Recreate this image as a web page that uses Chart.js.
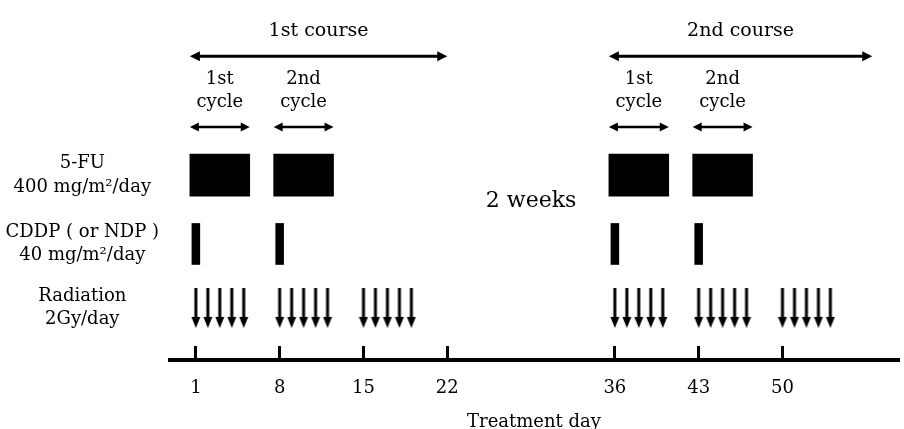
<!DOCTYPE html>
<html lang="en">
<head>
<meta charset="UTF-8">
<title>Treatment schedule</title>
<script src="https://cdn.jsdelivr.net/npm/chart.js"></script>
<style>
  html, body { margin: 0; padding: 0; background: #fff; }
  #wrap { position: relative; width: 904px; height: 429px; }
</style>
</head>
<body>
<div id="wrap"><canvas id="schedule"></canvas></div>
<script>
// schedule data, everything in treatment days
const tickDays = [1, 8, 15, 22, 36, 43, 50];
const courseNames = ['1st course', '2nd course'];
const courseSpans = [[0.5, 22], [35.5, 57.5]];
const cycleNames = [['1st', 'cycle'], ['2nd', 'cycle'], ['1st', 'cycle'], ['2nd', 'cycle']];
const cycleSpans = [[0.5, 5.5], [7.5, 12.5], [35.5, 40.5], [42.5, 47.5]];
const fuDays = [[1, 5], [8, 12], [36, 40], [43, 47]];
const cddpDays = [1, 8, 36, 43];
const radiationDays = [1, 2, 3, 4, 5, 8, 9, 10, 11, 12, 15, 16, 17, 18, 19,
                       36, 37, 38, 39, 40, 43, 44, 45, 46, 47, 50, 51, 52, 53, 54];
const rowLabels = [['5-FU', '400 mg/m²/day'], ['CDDP ( or NDP )', '40 mg/m²/day'], ['Radiation', '2Gy/day']];
const gapLabel = '2 weeks';
const gapDays = [22, 36];
const axisTitle = 'Treatment day';

// layout (vertical levels of each row, in the y scale units)
const ROW = { courseText: 25, course: 51, cycleText: 75, cycleText2: 98, cycle: 123, fu: 172, cddp: 242, rad: 307, gap: 199 };
const FAMILY = '"DejaVu Serif", serif';
const FS = 18;

Chart.defaults.font.family = FAMILY;
Chart.defaults.font.size = FS;
Chart.defaults.color = '#000';

// down arrow used as point style for radiation fractions
const downArrow = (function () {
    const c = document.createElement('canvas');
    c.width = 10; c.height = 40;
    const g = c.getContext('2d');
    g.fillStyle = '#000';
    g.fillRect(3.5, 0, 3, 31);
    g.beginPath();
    g.moveTo(0.5, 29); g.lineTo(9.5, 29); g.lineTo(5, 40);
    g.closePath(); g.fill();
    return c;
})();

const arrowSet = (spans, y, width, head) => spans.map(([a, b]) => ({
    type: 'line',
    data: [{ x: a, y: y }, { x: b, y: y }],
    showLine: false,
    pointRadius: 0,
    arrow: { width: width, len: head[0], half: head[1] }
}));

const schedulePlugin = {
    id: 'schedule',
    afterDatasetsDraw(chart) {
        const ctx = chart.ctx;
        const xs = chart.scales.x, ys = chart.scales.y;
        ctx.save();
        ctx.fillStyle = '#000';
        ctx.strokeStyle = '#000';
        // double headed arrows
        chart.data.datasets.forEach((ds, i) => {
            if (!ds.arrow) return;
            const pts = chart.getDatasetMeta(i).data;
            const x1 = pts[0].x, x2 = pts[1].x, y = pts[0].y;
            const a = ds.arrow;
            ctx.lineWidth = a.width;
            ctx.beginPath();
            ctx.moveTo(x1 + a.len - 1, y); ctx.lineTo(x2 - a.len + 1, y);
            ctx.stroke();
            ctx.beginPath();
            ctx.moveTo(x1, y); ctx.lineTo(x1 + a.len, y - a.half); ctx.lineTo(x1 + a.len, y + a.half);
            ctx.closePath(); ctx.fill();
            ctx.beginPath();
            ctx.moveTo(x2, y); ctx.lineTo(x2 - a.len, y - a.half); ctx.lineTo(x2 - a.len, y + a.half);
            ctx.closePath(); ctx.fill();
        });
        // labels
        ctx.textAlign = 'center';
        ctx.textBaseline = 'middle';
        ctx.font = (FS + 1) + 'px ' + FAMILY;
        courseSpans.forEach(([a, b], i) => {
            ctx.fillText(courseNames[i], xs.getPixelForValue((a + b) / 2), ys.getPixelForValue(ROW.courseText));
        });
        ctx.font = FS + 'px ' + FAMILY;
        cycleSpans.forEach(([a, b], i) => {
            const cx = xs.getPixelForValue((a + b) / 2);
            ctx.fillText(cycleNames[i][0], cx, ys.getPixelForValue(ROW.cycleText));
            ctx.fillText(cycleNames[i][1], cx, ys.getPixelForValue(ROW.cycleText2));
        });
        ctx.font = '22px ' + FAMILY;
        ctx.fillText(gapLabel, xs.getPixelForValue((gapDays[0] + gapDays[1]) / 2), ys.getPixelForValue(ROW.gap));
        ctx.restore();
    }
};

new Chart(document.getElementById('schedule'), {
    type: 'scatter',
    data: {
        datasets: [
            {
                type: 'bar',
                indexAxis: 'y',
                label: '5-FU',
                data: fuDays.map(([a, b]) => ({ x: [a - 0.5, b + 0.5], y: ROW.fu })),
                backgroundColor: '#000',
                barThickness: 42,
                grouped: false
            },
            {
                type: 'bar',
                indexAxis: 'y',
                label: 'CDDP',
                data: cddpDays.map(d => ({ x: [d - 0.33, d + 0.33], y: ROW.cddp })),
                backgroundColor: '#000',
                barThickness: 41,
                grouped: false
            },
            {
                label: 'Radiation',
                data: radiationDays.map(d => ({ x: d, y: ROW.rad })),
                pointStyle: downArrow,
                pointRadius: 5
            },
            ...arrowSet(courseSpans, ROW.course, 3, [10, 5]),
            ...arrowSet(cycleSpans, ROW.cycle, 2.5, [9, 4.5])
        ]
    },
    options: {
        responsive: true,
        maintainAspectRatio: false,
        animation: false,
        layout: { padding: 0 },
        plugins: { legend: { display: false }, tooltip: { enabled: false } },
        scales: {
            x: {
                type: 'linear',
                min: -1.16,
                max: 59.65,
                offset: false,
                afterBuildTicks: s => { s.ticks = tickDays.map(v => ({ value: v })); },
                afterFit: s => { s.height = 69; s.paddingLeft = 0; s.paddingRight = 0; },
                ticks: { autoSkip: false, maxRotation: 0, padding: 32 },
                grid: { display: true, offset: false, drawOnChartArea: false, drawTicks: true, tickLength: -14, lineWidth: 3, color: '#000' },
                border: { display: true, width: 4, color: '#000' },
                title: { display: true, text: axisTitle, padding: { top: 0, bottom: -4 } }
            },
            y: {
                type: 'linear',
                min: 0,
                max: 360,
                reverse: true,
                offset: false,
                afterBuildTicks: s => { s.ticks = [ROW.fu, ROW.cddp, ROW.rad].map(v => ({ value: v })); },
                afterFit: s => { s.width = 170; s.paddingTop = 0; s.paddingBottom = 0; },
                ticks: {
                    callback: (v, i) => rowLabels[i],
                    crossAlign: 'center',
                    padding: 3,
                    font: { lineHeight: 1.3 }
                },
                grid: { display: false, offset: false },
                border: { display: false }
            }
        }
    },
    plugins: [schedulePlugin]
});
</script>
</body>
</html>
